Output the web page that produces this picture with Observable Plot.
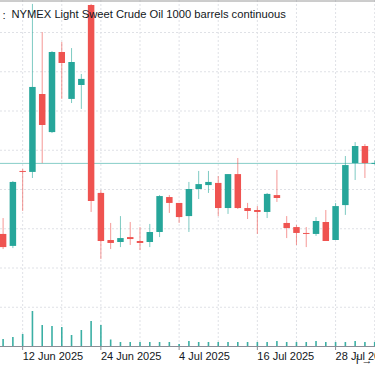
<!DOCTYPE html>
<html><head><meta charset="utf-8">
<script src="https://cdn.jsdelivr.net/npm/d3@7"></script>
<script src="https://cdn.jsdelivr.net/npm/@observablehq/plot@0.6"></script>
<style>
html,body{margin:0;padding:0;background:#fff;}
#chart{position:relative;width:375px;height:366px;overflow:hidden;}
#chart svg{position:absolute;left:0;top:0;background:transparent;}
</style></head><body><div id="chart"></div>
<script>
const dates = ["2025-06-10","2025-06-11","2025-06-12","2025-06-13","2025-06-16","2025-06-17","2025-06-18","2025-06-19","2025-06-20","2025-06-23","2025-06-24","2025-06-25","2025-06-26","2025-06-27","2025-06-30","2025-07-01","2025-07-02","2025-07-03","2025-07-04","2025-07-07","2025-07-08","2025-07-09","2025-07-10","2025-07-11","2025-07-14","2025-07-15","2025-07-16","2025-07-17","2025-07-18","2025-07-21","2025-07-22","2025-07-23","2025-07-24","2025-07-25","2025-07-28","2025-07-29","2025-07-30","2025-07-31","2025-08-01"];
const open  = [65.71,65.10,68.92,68.87,72.84,70.90,74.98,72.59,73.30,77.38,67.80,65.40,65.30,65.55,65.35,65.30,65.81,67.59,67.29,66.62,68.00,68.20,68.31,67.03,68.76,67.03,66.93,66.83,67.69,66.27,66.06,65.76,65.71,66.32,65.40,67.18,69.32,70.19,69.28];
const high  = [66.52,68.41,69.02,77.43,76.00,75.03,75.49,75.18,73.86,77.43,67.95,66.27,66.62,66.32,66.06,66.22,67.69,67.69,67.29,68.36,68.92,68.92,68.66,68.76,69.58,67.29,67.13,67.80,68.97,66.62,66.17,66.06,66.57,66.93,67.29,69.68,70.39,70.29,69.45];
const low   = [64.94,64.99,66.88,68.56,69.32,70.85,72.59,72.38,72.08,66.83,64.43,64.94,65.04,65.15,64.89,65.04,65.55,66.78,66.27,65.81,67.49,67.80,66.62,66.73,66.98,66.47,65.71,66.52,67.34,65.50,65.15,65.04,65.61,65.35,65.40,66.68,68.46,68.56,69.25];
const close = [65.04,68.36,68.87,73.20,71.26,74.98,74.42,74.47,73.61,67.39,65.35,65.25,65.50,65.45,65.25,65.81,67.64,67.29,66.57,68.00,68.25,68.36,67.03,68.76,67.03,66.88,66.83,67.75,67.54,66.01,65.76,65.71,66.37,65.35,67.13,69.22,70.19,69.32,69.33];
const volume = [70,90,120,350,210,200,190,110,160,250,210,65,40,40,40,40,40,40,20,50,40,40,40,40,40,40,40,40,50,40,40,40,50,40,40,40,50,40,40];
const tickDates = ["2025-06-12","2025-06-24","2025-07-04","2025-07-16","2025-07-28"];
const priceGrid = [62,64,66,68,70,72,74,76];
const titleText = "NYMEX Light Sweet Crude Oil 1000 barrels continuous";

const UP = "#26a69a", DOWN = "#ef5350";
const data = dates.map((d, i) => ({i, date: d, open: open[i], high: high[i], low: low[i], close: close[i], volume: volume[i]}));
const col = d => d.close >= d.open ? UP : DOWN;
const tickIdx = tickDates.map(t => dates.indexOf(t));
const gridIdx = d3.range(tickIdx[0], dates.length, 4);
const fmt = d3.utcFormat("%-d %b %Y");
const lastPrice = close[close.length - 1];

const W = 375, H = 366;
const xScale = {type: "linear", domain: [0, dates.length - 1], range: [2.6, 374.2]};
const common = {width: W, height: H, marginLeft: 0, marginRight: 0, marginTop: 0, marginBottom: 20,
  style: {fontFamily: "Liberation Sans, Arial, sans-serif", background: "transparent", color: "#131722"}};

const main = Plot.plot({
  ...common,
  x: {...xScale, axis: null},
  y: {type: "linear", domain: [60, 76], range: [346, 32], axis: null},
  marks: [
    Plot.ruleY(priceGrid, {stroke: "#dfe1e6", strokeDasharray: "2,2"}),
    Plot.ruleX(gridIdx, {x: d => d, y1: 60, y2: 78, stroke: "#dfe1e6", strokeDasharray: "2,2"}),
    Plot.ruleY([lastPrice], {stroke: UP, strokeOpacity: 0.55}),
    Plot.ruleX(data, {x: "i", y1: "low", y2: "high", stroke: col, strokeOpacity: 0.6}),
    Plot.ruleX(data, {x: "i", y1: "open", y2: "close", stroke: col, strokeWidth: 6.5}),
    Plot.frame({anchor: "bottom", stroke: "#8a8d96"}),
    Plot.frame({anchor: "top", stroke: "#9a9a9a", dy: 0.5}),
    Plot.axisX(tickIdx, {anchor: "bottom", tickSize: 4, tickPadding: 2, textAnchor: "start", dx: 0,
      tickFormat: i => fmt(new Date(dates[i])), fontSize: 11, stroke: "#8a8d96", fill: "#131722"}),
    Plot.text([":"], {frameAnchor: "top-left", dx: 2, dy: 10, textAnchor: "start", fontSize: 11.5, fill: "#131722"}),
    Plot.text([titleText], {frameAnchor: "top-left", dx: 11, dy: 10, textAnchor: "start", fontSize: 11.2, fill: "#131722"})
  ]
});

const vol = Plot.plot({
  ...common,
  x: {...xScale, axis: null},
  y: {type: "linear", domain: [0, d3.max(volume)], range: [346, 311], axis: null},
  marks: [
    Plot.ruleX(data, {x: "i", y1: 0, y2: "volume", stroke: UP, strokeWidth: 1.6, strokeOpacity: 0.9})
  ]
});

const el = document.getElementById("chart");
el.appendChild(main);
el.appendChild(vol);
</script></body></html>
